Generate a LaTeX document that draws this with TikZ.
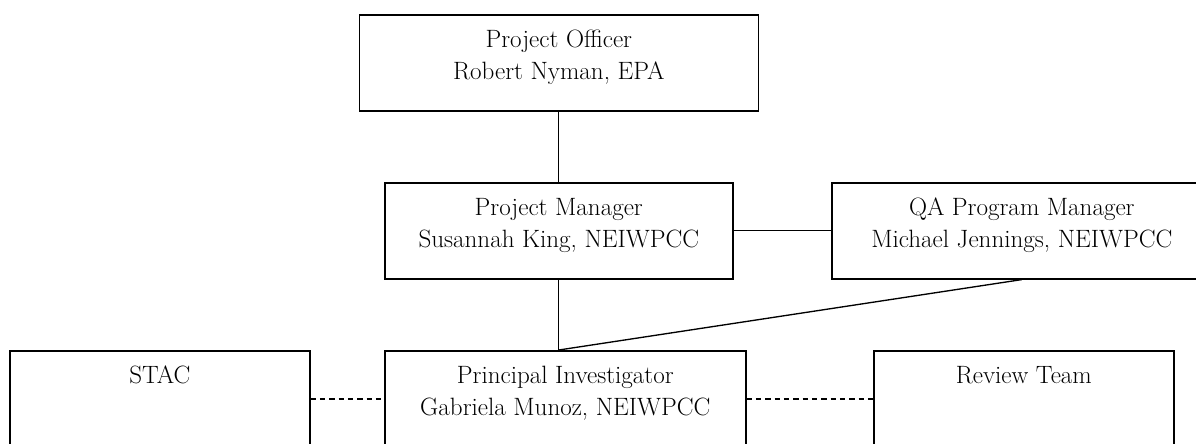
\documentclass[tikz,border=0pt]{standalone}
\usepackage{tikz}

\begin{document}
\begin{tikzpicture}[x=.75pt, y=-.75pt,
    unit/.style={draw, line width=1.2pt, anchor=north west, inner sep=0pt,
        minimum width=#1, text height=24.75pt, text depth=47.25pt,
        font=\fontsize{18.8pt}{23.6pt}\selectfont},
    link/.style={line width=1pt},
    dotlink/.style={line width=1.1pt, dash pattern=on 4pt off 3pt}]

    \useasboundingbox (0,0) rectangle (1196,443);

    \node[unit=299.25pt] (officer) at (358.5,14)
        {\begin{tabular}[t]{c}Project Officer\\Robert Nyman, EPA\end{tabular}};
    \node[unit=261pt] (manager) at (384,182)
        {\begin{tabular}[t]{c}Project Manager\\Susannah King, NEIWPCC\end{tabular}};
    \node[unit=285pt] (qa) at (831,182)
        {\begin{tabular}[t]{c}QA Program Manager\\Michael Jennings, NEIWPCC\end{tabular}};
    \node[unit=225pt] (stac) at (9,350)
        {\begin{tabular}[t]{c}STAC\end{tabular}};
    \node[unit=270.75pt] (pi) at (384,350)
        {\begin{tabular}[t]{c}Principal Investigator\\Gabriela Munoz, NEIWPCC\end{tabular}};
    \node[unit=225pt] (review) at (873,350)
        {\begin{tabular}[t]{c}Review Team\end{tabular}};

    \coordinate (pitop) at (manager.south |- pi.north);

    \draw[link] (officer.south) -- (manager.north);
    \draw[link] (manager.east) -- (qa.west);
    \draw[link] (manager.south) -- (pitop);
    \draw[link] (qa.south) -- (pitop);

    % dashed advisory links
    \draw[dotlink] (stac.east) -- (pi.west);
    \draw[dotlink] (pi.east) -- (review.west);

\end{tikzpicture}
\end{document}
